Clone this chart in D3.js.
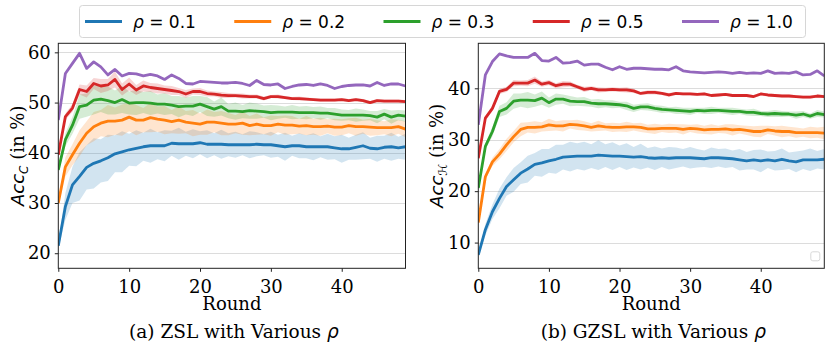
<!DOCTYPE html>
<html lang="en">
<head>
  <meta charset="utf-8" />
  <title>ZSL / GZSL accuracy vs rounds</title>
  <script src="https://d3js.org/d3.v7.min.js"></script>
  <style>
    body{margin:0;background:#fff;}
    svg{display:block;}
    .tick text{font-family:"DejaVu Serif",serif;font-size:18px;fill:#000;}
    .lbl{font-family:"DejaVu Serif",serif;font-size:18px;fill:#000;}
    .cap{font-size:18.5px;}
    .math{font-family:"DejaVu Sans",sans-serif;font-style:italic;}
  </style>
</head>
<body>
<svg id="chart" width="831" height="354"></svg>
<script>
// -------------- DATA --------------
const ROUNDS=d3.range(0,50);
const RHOS=['0.1','0.2','0.3','0.5','1.0'];
const COLORS=['#1f77b4','#ff7f0e','#2ca02c','#d62728','#9467bd'];
const yTicksA=[20,30,40,50,60];
const yTicksB=[10,20,30,40];
const xTicks=[0,10,20,30,40];

// (a) ZSL, mean accuracy per round
const zslRho01=[21.5,29.3,33.6,35.3,37.1,37.9,38.4,39.0,39.8,40.2,40.6,40.9,41.2,41.4,41.4,41.4,41.9,41.8,41.8,41.8,42.0,41.7,41.7,41.7,41.6,41.6,41.6,41.6,41.7,41.6,41.6,41.4,41.2,41.4,41.4,41.2,41.2,41.2,41.2,41.0,40.8,40.8,41.1,41.4,40.9,40.8,41.1,41.2,41.0,41.2];
const zslRho02=[30.0,37.2,39.6,41.9,43.9,45.2,45.9,46.3,46.3,46.5,47.1,46.5,46.5,47.0,46.7,46.5,46.2,46.5,46.1,45.9,45.7,46.1,46.1,45.9,45.7,45.7,45.9,45.4,45.7,45.4,45.4,45.7,45.5,45.5,45.3,45.4,45.2,45.2,45.3,45.1,45.1,45.4,45.2,45.2,45.1,45.0,45.0,45.0,45.2,44.7];
const zslRho03=[36.6,42.6,45.5,49.2,49.5,50.5,50.7,50.4,50.0,50.6,49.9,50.0,50.0,49.9,49.7,49.7,49.5,49.2,49.3,49.3,49.7,49.2,48.7,49.2,48.3,48.3,48.2,48.4,48.3,48.2,48.0,48.1,48.1,48.1,48.0,48.0,48.0,47.9,47.9,47.7,47.5,47.5,47.5,47.5,47.4,47.1,47.7,47.1,47.5,47.3];
const zslRho05=[39.6,47.2,48.9,52.6,52.2,53.8,53.3,53.5,54.6,52.6,53.7,52.5,53.3,53.0,52.8,52.6,52.4,52.2,51.7,52.2,52.2,51.8,51.7,51.5,51.4,51.4,51.3,51.2,51.2,50.8,51.2,51.2,51.0,50.8,50.8,50.7,50.6,50.5,50.5,50.5,50.6,50.4,50.6,50.4,50.0,50.4,50.3,50.3,50.3,50.2];
const zslRho10=[46.5,55.8,57.8,59.8,56.8,58.1,57.1,55.5,56.6,55.3,55.8,55.7,55.3,55.6,55.3,54.6,55.5,54.8,53.8,53.7,54.2,54.1,54.0,53.9,53.9,54.0,53.8,53.4,54.4,53.6,53.5,53.7,52.8,53.2,53.5,53.6,53.4,53.7,53.4,52.8,53.2,53.4,53.5,53.5,53.3,54.0,53.4,53.7,53.7,53.3];
// (a) ZSL, std per round (shaded band)
const zslStd01=[0.5,2.7,3.6,4.8,4.4,5.0,4.3,4.6,3.7,4.1,3.2,3.6,2.8,3.4,2.7,3.1,2.5,3.2,2.4,2.9,2.3,2.8,2.2,2.9,2.3,2.6,2.1,2.7,2.4,2.1,2.6,2.2,2.8,2.0,2.5,2.3,2.7,2.1,2.6,2.3,2.8,2.2,2.5,2.7,2.1,2.6,2.3,2.8,2.2,2.6];
const zslStd02=[0.5,1.9,2.1,2.6,2.4,2.9,2.6,3.2,2.7,3.1,2.8,3.0,2.4,2.9,2.5,2.8,2.3,2.7,2.2,2.6,2.1,2.5,2.0,2.4,2.2,1.8,2.3,1.9,2.1,1.7,2.0,1.6,1.9,1.8,1.5,1.9,1.6,1.8,1.4,1.7,1.6,1.5,1.8,1.4,1.7,1.5,1.3,1.7,1.4,1.6];
const zslStd03=[0.5,1.3,1.7,2.4,2.3,2.9,2.6,2.8,2.4,2.7,2.3,2.5,2.1,2.4,1.9,2.2,1.8,2.1,1.7,2.0,1.6,1.9,1.5,1.8,1.4,1.7,1.3,1.6,1.5,1.2,1.5,1.3,1.1,1.4,1.2,1.3,1.1,1.3,1.0,1.2,1.1,1.0,1.3,1.1,0.9,1.2,1.0,1.3,1.0,1.1];
const zslStd05=[0.3,0.6,0.8,1.0,1.2,1.1,1.4,1.2,1.6,1.2,1.3,1.0,1.1,0.9,1.0,0.8,0.9,0.7,0.8,0.6,0.7,0.6,0.5,0.6,0.5,0.4,0.5,0.4,0.4,0.4,0.3,0.4,0.3,0.3,0.4,0.3,0.3,0.3,0.3,0.3,0.3,0.3,0.3,0.3,0.3,0.3,0.3,0.3,0.3,0.3];
const zslStd10=[0.1,0.2,0.2,0.2,0.2,0.2,0.2,0.2,0.2,0.2,0.1,0.1,0.1,0.1,0.1,0.1,0.1,0.1,0.1,0.1,0.1,0.1,0.1,0.1,0.1,0.1,0.1,0.1,0.1,0.1,0.1,0.1,0.1,0.1,0.1,0.1,0.1,0.1,0.1,0.1,0.1,0.1,0.1,0.1,0.1,0.1,0.1,0.1,0.1,0.1];

// (b) GZSL, mean accuracy per round
const gzslRho01=[7.6,12.5,16.0,18.6,20.9,22.2,23.5,24.3,25.2,25.5,25.9,26.2,26.6,26.7,26.8,26.8,26.8,27.0,26.9,26.8,26.8,26.7,26.6,26.7,26.5,26.4,26.5,26.4,26.5,26.5,26.5,26.4,26.3,26.5,26.5,26.4,26.3,26.1,25.9,26.1,25.9,26.1,25.9,26.2,25.9,25.7,26.1,26.1,26.1,26.2];
const gzslRho02=[13.9,22.8,25.7,27.2,29.0,30.6,32.0,32.4,32.4,32.5,32.9,32.7,32.7,33.0,32.9,32.7,32.4,32.7,32.5,32.4,32.4,32.5,32.5,32.4,32.1,32.1,32.2,32.2,32.2,32.0,32.2,32.1,31.9,32.0,32.0,32.1,31.9,32.0,31.8,31.6,31.6,31.9,31.7,31.6,31.6,31.4,31.4,31.4,31.4,31.3];
const gzslRho03=[20.6,28.7,31.6,35.5,36.1,37.5,37.7,37.7,37.6,38.1,37.2,37.9,37.9,37.5,37.4,37.4,37.1,37.0,37.0,36.9,36.8,36.6,36.1,36.4,36.4,36.1,35.9,35.8,35.7,35.6,35.5,35.7,35.6,35.7,35.7,35.6,35.5,35.5,35.3,35.3,35.1,35.0,35.1,35.0,35.0,34.8,35.0,34.6,35.1,34.9];
const gzslRho05=[26.4,34.2,36.1,39.4,39.8,41.0,41.0,41.0,41.6,40.8,41.1,40.5,40.8,40.8,40.3,39.8,40.0,39.7,39.7,39.8,39.7,39.7,39.5,39.0,39.2,39.2,39.0,38.7,39.0,38.9,38.9,38.8,38.9,38.6,38.7,38.8,38.6,38.6,38.6,38.4,38.9,38.7,38.6,38.5,38.5,38.4,38.3,38.3,38.5,38.4];
const gzslRho10=[32.9,42.6,45.2,46.7,46.3,46.0,46.0,46.0,46.8,45.4,45.3,46.0,44.9,45.0,45.3,44.5,44.7,44.7,44.1,43.6,44.2,43.7,43.9,43.9,43.8,43.7,43.7,43.6,44.2,43.4,43.2,43.1,43.0,43.1,43.2,43.1,42.9,43.1,42.9,43.0,42.9,43.4,42.9,43.0,42.9,43.2,42.6,42.7,43.4,42.4];
// (b) GZSL, std per round
const gzslStd01=[0.3,1.1,1.4,1.9,1.8,2.3,2.1,2.6,2.2,2.7,2.3,2.8,2.4,2.9,2.5,2.8,2.3,2.9,2.2,2.7,2.1,2.6,2.0,2.5,1.9,2.3,1.8,2.2,2.0,1.7,2.1,1.8,1.6,2.0,1.7,1.9,1.6,2.1,1.7,1.9,2.2,1.6,1.9,2.1,1.6,2.0,1.8,2.2,1.7,2.0];
const gzslStd02=[0.3,0.6,0.8,1.0,1.2,1.1,1.3,1.0,1.2,0.9,1.2,0.9,1.1,0.8,1.0,0.9,0.8,1.0,0.7,0.9,0.8,1.0,0.7,0.9,0.8,1.0,0.7,0.9,0.8,1.0,0.7,0.9,0.8,1.0,0.7,0.9,1.1,0.8,0.9,1.0,1.1,0.8,0.9,1.1,0.9,1.0,0.8,1.1,1.0,1.2];
const gzslStd03=[0.3,0.6,0.9,1.1,1.2,1.5,1.3,1.6,1.2,1.3,1.0,1.1,0.9,1.0,0.8,0.9,0.7,0.9,0.7,0.8,0.6,0.8,0.7,0.6,0.7,0.6,0.7,0.5,0.7,0.6,0.7,0.5,0.6,0.7,0.5,0.6,0.7,0.5,0.6,0.7,0.5,0.6,0.7,0.6,0.5,0.7,0.6,0.5,0.7,0.6];
const gzslStd05=[0.2,0.4,0.5,0.5,0.5,0.6,0.5,0.6,0.7,0.5,0.5,0.5,0.6,0.5,0.4,0.5,0.4,0.5,0.4,0.4,0.4,0.5,0.4,0.3,0.4,0.4,0.3,0.4,0.3,0.3,0.3,0.3,0.3,0.3,0.3,0.3,0.3,0.3,0.3,0.3,0.3,0.3,0.3,0.3,0.3,0.3,0.3,0.3,0.3,0.3];
const gzslStd10=[0.1,0.2,0.2,0.2,0.2,0.2,0.2,0.2,0.2,0.2,0.1,0.1,0.1,0.1,0.1,0.1,0.1,0.1,0.1,0.1,0.1,0.1,0.1,0.1,0.1,0.1,0.1,0.1,0.1,0.1,0.1,0.1,0.1,0.1,0.1,0.1,0.1,0.1,0.1,0.1,0.1,0.1,0.1,0.1,0.1,0.1,0.1,0.1,0.1,0.1];

const PANELS=[
  {means:[zslRho01,zslRho02,zslRho03,zslRho05,zslRho10],stds:[zslStd01,zslStd02,zslStd03,zslStd05,zslStd10],
   yDomain:[17,61.8],yTicks:yTicksA,left:58.3,right:405.5,sub:'C',caption:'(a) ZSL with Various ',ylabX:24},
  {means:[gzslRho01,gzslRho02,gzslRho03,gzslRho05,gzslRho10],stds:[gzslStd01,gzslStd02,gzslStd03,gzslStd05,gzslStd10],
   yDomain:[5,48.75],yTicks:yTicksB,left:478.3,right:824.3,sub:'ℋ',caption:'(b) GZSL with Various ',ylabX:443,emptyLegend:true}
];
const TOP=43.3, BOTTOM=268.3;

const svg=d3.select('#chart');

PANELS.forEach(p=>{
  const x=d3.scaleLinear().domain([0,49]).range([p.left,p.right]);
  const y=d3.scaleLinear().domain(p.yDomain).range([BOTTOM,TOP]);
  const g=svg.append('g');
  const cid='clip'+Math.round(p.left);
  svg.append('clipPath').attr('id',cid).append('rect')
    .attr('x',p.left).attr('y',TOP).attr('width',p.right-p.left).attr('height',BOTTOM-TOP);

  // grid
  g.append('g').selectAll('line').data(p.yTicks).enter().append('line')
    .attr('x1',p.left).attr('x2',p.right)
    .attr('y1',d=>Math.round(y(d))+0.5).attr('y2',d=>Math.round(y(d))+0.5)
    .attr('stroke','#dcdcdc').attr('stroke-width',1);

  // bands + lines
  const plot=g.append('g').attr('clip-path',`url(#${cid})`);
  p.means.forEach((m,i)=>{
    const s=p.stds[i];
    const area=d3.area().x(d=>x(d)).y0(d=>y(m[d]-s[d])).y1(d=>y(m[d]+s[d]));
    plot.append('path').datum(ROUNDS).attr('d',area).attr('fill',COLORS[i]).attr('fill-opacity',0.2);
    const line=d3.line().x(d=>x(d)).y(d=>y(m[d]));
    plot.append('path').datum(ROUNDS).attr('d',line).attr('fill','none')
      .attr('stroke',COLORS[i]).attr('stroke-width',2.8).attr('stroke-linejoin','round');
  });

  // axes
  const ax=g.append('g').attr('transform',`translate(0,${BOTTOM})`)
    .call(d3.axisBottom(x).tickValues(xTicks).tickSize(3.5).tickPadding(4).tickSizeOuter(0));
  const ay=g.append('g').attr('transform',`translate(${p.left},0)`)
    .call(d3.axisLeft(y).tickValues(p.yTicks).tickSize(3.5).tickPadding(4).tickSizeOuter(0));
  [ax,ay].forEach(a=>{a.select('.domain').remove();a.selectAll('line').attr('stroke','#222');a.selectAll('text').attr('fill','#000');});
  ax.selectAll('text').attr('dy','0.95em');

  // frame
  g.append('rect').attr('x',p.left).attr('y',TOP).attr('width',p.right-p.left).attr('height',BOTTOM-TOP)
    .attr('fill','none').attr('stroke','#222').attr('stroke-width',1);

  // labels
  const cx=(p.left+p.right)/2;
  g.append('text').attr('class','lbl').attr('x',cx).attr('y',310).attr('text-anchor','middle').text('Round');
  const cap=g.append('text').attr('class','lbl cap').attr('x',cx+2).attr('y',338).attr('text-anchor','middle');
  cap.append('tspan').text(p.caption);
  cap.append('tspan').attr('class','math').text('ρ');

  const yl=g.append('text').attr('class','lbl').attr('text-anchor','middle')
    .attr('transform',`translate(${p.ylabX},${(TOP+BOTTOM)/2}) rotate(-90)`);
  yl.append('tspan').attr('class','math').text('Acc');
  yl.append('tspan').attr('class','math').attr('font-size','12px').attr('dy',4).text(p.sub);
  yl.append('tspan').attr('dy',-4).text(' (in %)');

  if(p.emptyLegend){
    g.append('rect').attr('x',p.right-13.5).attr('y',BOTTOM-16.5).attr('width',9).attr('height',9)
      .attr('rx',2).attr('fill','#fff').attr('stroke','#d8d8d8');
  }
});

// -------------- LEGEND --------------
svg.append('rect').attr('x',79.5).attr('y',5.5).attr('width',726).attr('height',32).attr('rx',3)
  .attr('fill','#fff').attr('stroke','#d6d6d6');
const legX=d3.scalePoint().domain(RHOS).range([85,682]);
const li=svg.append('g').selectAll('g').data(RHOS).enter().append('g')
  .attr('transform',d=>`translate(${legX(d)},21.5)`);
li.append('line').attr('x1',0).attr('x2',37).attr('stroke',(d,i)=>COLORS[i]).attr('stroke-width',2.8);
const lt=li.append('text').attr('x',48).attr('dy','0.36em')
  .style('font-family','"DejaVu Sans",sans-serif').style('font-size','17px');
lt.append('tspan').style('font-style','italic').text('ρ');
lt.append('tspan').text(d=>' = '+d);
</script>
</body>
</html>
